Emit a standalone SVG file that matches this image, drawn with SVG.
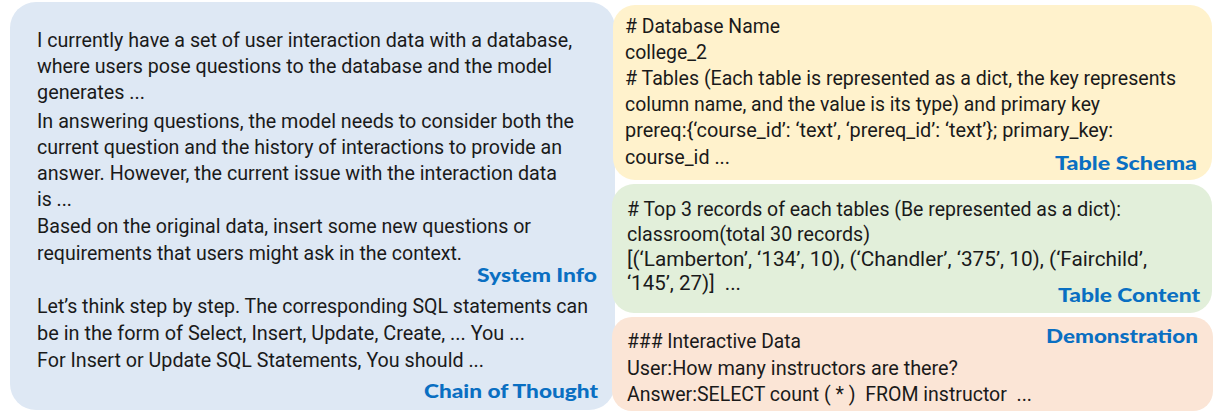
<svg xmlns="http://www.w3.org/2000/svg" width="1214" height="414" viewBox="0 0 1214 414">
<style>
.t{font-family:Roboto,"Liberation Sans",sans-serif;font-size:20px;fill:#1a1a1a}
.r{font-family:Roboto,"Liberation Sans",sans-serif;font-size:19.5px;fill:#1a1a1a}
.lb{font-family:Lato,"Open Sans","Liberation Sans",sans-serif;font-size:19px;font-weight:900;fill:#0A6FC2;text-anchor:end}
</style>
<rect width="1214" height="414" fill="#ffffff"/>
<g id="system">
<rect x="10" y="2" width="605" height="408" rx="26" fill="#DEE8F4"/>
<text class="t" x="37" y="47" textLength="535" lengthAdjust="spacingAndGlyphs">I currently have a set of user interaction data with a database,</text>
<text class="t" x="37" y="73" textLength="515" lengthAdjust="spacingAndGlyphs">where users pose questions to the database and the model</text>
<text class="t" x="37" y="99" textLength="108" lengthAdjust="spacingAndGlyphs">generates ...</text>
<text class="t" x="37" y="128" textLength="537" lengthAdjust="spacingAndGlyphs">In answering questions, the model needs to consider both the</text>
<text class="t" x="37" y="154" textLength="525" lengthAdjust="spacingAndGlyphs">current question and the history of interactions to provide an</text>
<text class="t" x="37" y="180" textLength="520" lengthAdjust="spacingAndGlyphs">answer. However, the current issue with the interaction data</text>
<text class="t" x="37" y="206" textLength="35" lengthAdjust="spacingAndGlyphs">is ...</text>
<text class="t" x="37" y="233" textLength="494" lengthAdjust="spacingAndGlyphs">Based on the original data, insert some new questions or</text>
<text class="t" x="37" y="260" textLength="425" lengthAdjust="spacingAndGlyphs">requirements that users might ask in the context.</text>
<text class="lb" x="597" y="282" textLength="120" lengthAdjust="spacingAndGlyphs">System Info</text>
</g>
<g id="cot">
<text class="t" x="37" y="313" textLength="551" lengthAdjust="spacingAndGlyphs">Let’s think step by step. The corresponding SQL statements can</text>
<text class="t" x="37" y="340" textLength="488" lengthAdjust="spacingAndGlyphs">be in the form of Select, Insert, Update, Create, ... You ...</text>
<text class="t" x="37" y="367" textLength="447" lengthAdjust="spacingAndGlyphs">For Insert or Update SQL Statements, You should ...</text>
<text class="lb" x="598" y="398" textLength="174" lengthAdjust="spacingAndGlyphs">Chain of Thought</text>
</g>
<g id="schema">
<rect x="613" y="5" width="599" height="175" rx="22" fill="#FFF2CC"/>
<text class="r" x="625" y="33" textLength="155" lengthAdjust="spacingAndGlyphs"># Database Name</text>
<text class="r" x="625" y="59" textLength="82" lengthAdjust="spacingAndGlyphs">college_2</text>
<text class="r" x="625" y="85" textLength="551" lengthAdjust="spacingAndGlyphs"># Tables (Each table is represented as a dict, the key represents</text>
<text class="r" x="625" y="111" textLength="475" lengthAdjust="spacingAndGlyphs">column name, and the value is its type) and primary key</text>
<text class="r" x="625" y="137" textLength="488" lengthAdjust="spacingAndGlyphs">prereq:{‘course_id’: ‘text’, ‘prereq_id’: ‘text’}; primary_key:</text>
<text class="r" x="625" y="164" textLength="105" lengthAdjust="spacingAndGlyphs">course_id ...</text>
<text class="lb" x="1197" y="170" textLength="142" lengthAdjust="spacingAndGlyphs">Table Schema</text>
</g>
<g id="content">
<rect x="612" y="184" width="600" height="129" rx="22" fill="#E2EFDA"/>
<text class="r" x="627" y="216" textLength="494" lengthAdjust="spacingAndGlyphs"># Top 3 records of each tables (Be represented as a dict):</text>
<text class="r" x="627" y="241" textLength="243" lengthAdjust="spacingAndGlyphs">classroom(total 30 records)</text>
<text class="r" x="627" y="266" textLength="520" lengthAdjust="spacingAndGlyphs">[(‘Lamberton’, ‘134’, 10), (‘Chandler’, ‘375’, 10), (‘Fairchild’,</text>
<text class="r" x="627" y="290" textLength="114" lengthAdjust="spacingAndGlyphs" xml:space="preserve">‘145’, 27)]  ...</text>
<text class="lb" x="1200" y="302" textLength="142" lengthAdjust="spacingAndGlyphs">Table Content</text>
</g>
<g id="demo">
<rect x="612" y="317" width="601" height="94" rx="20" fill="#FBE5D6"/>
<text class="r" x="627" y="348" textLength="174" lengthAdjust="spacingAndGlyphs">### Interactive Data</text>
<text class="r" x="627" y="375" textLength="331" lengthAdjust="spacingAndGlyphs">User:How many instructors are there?</text>
<text class="r" x="627" y="401" textLength="405" lengthAdjust="spacingAndGlyphs" xml:space="preserve">Answer:SELECT count ( * )  FROM instructor  ...</text>
<text class="lb" x="1198" y="343" textLength="152" lengthAdjust="spacingAndGlyphs">Demonstration</text>
</g>
<g id="connectors"/>
</svg>
